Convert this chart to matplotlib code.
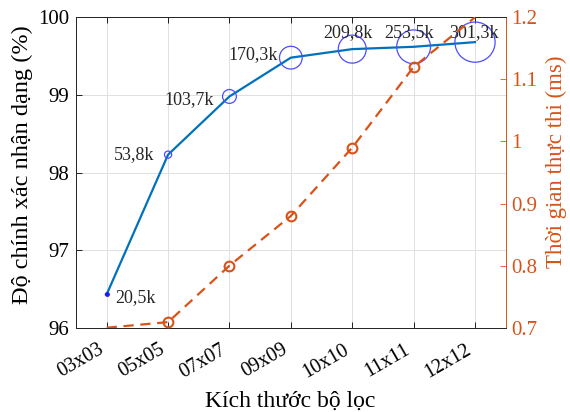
import matplotlib.pyplot as plt
from matplotlib.transforms import ScaledTranslation

plt.rcParams["font.family"] = ["Liberation Serif", "DejaVu Serif"]

filter_sizes = ["03x03", "05x05", "07x07", "09x09", "10x10", "11x11", "12x12"]
accuracy = [96.43, 98.23, 98.98, 99.48, 99.59, 99.62, 99.68]
exec_time = [0.700, 0.709, 0.800, 0.880, 0.990, 1.120, 1.200]
params_k = [20.5, 53.8, 103.7, 170.3, 209.8, 253.5, 301.3]
param_labels = ["20,5k", "53,8k", "103,7k", "170,3k", "209,8k", "253,5k", "301,3k"]

BLUE = (0.0, 0.447, 0.741)
ORANGE = (0.85, 0.325, 0.098)
DARK = (0.15, 0.15, 0.15)

x = list(range(len(filter_sizes)))

fig = plt.figure(figsize=(5.7, 4.12), dpi=100)
ax = fig.add_axes([0.1333, 0.2046, 0.7539, 0.7534])
ax2 = ax.twinx()

# left axis: accuracy with bubble markers sized by number of parameters
ax.plot(x, accuracy, color=BLUE, linewidth=1.6, zorder=3)
sizes = [(p / 7.5 * 0.72) ** 2 for p in params_k]
ax.scatter(x, accuracy, s=sizes, facecolors="none", edgecolors=(0.3, 0.3, 1.0), linewidths=0.9, zorder=4)
ax.scatter(x[:1], accuracy[:1], s=6, color=(0.1, 0.1, 1.0), zorder=5)

# label placement: (dx, dy) in points, horizontal alignment
label_pos = [
    ((6, -2), "left"),
    ((-10, 0), "right"),
    ((-11, -2), "right"),
    ((-9, 2), "right"),
    ((-3, 12), "center"),
    ((-3, 10), "center"),
    ((-1, 7), "center"),
]
for xi, yi, lab, (off, ha) in zip(x, accuracy, param_labels, label_pos):
    ax.annotate(lab, (xi, yi), xytext=off, textcoords="offset points",
                ha=ha, va="center", fontsize=13, color=DARK, zorder=6)

ax.set_xlim(-0.5, 6.5)
ax.set_ylim(96, 100)
ax.set_yticks([96, 97, 98, 99, 100])
ax.set_xticks(x)
ax.set_xticklabels(filter_sizes, rotation=30, ha="right", va="top", fontsize=14.5)
shift = ScaledTranslation(9 / 100, 0, fig.dpi_scale_trans)
for lbl in ax.get_xticklabels():
    lbl.set_transform(lbl.get_transform() + shift)
ax.grid(True, color="0.88", linewidth=0.7)
ax.set_axisbelow(True)
ax.tick_params(direction="in", top=True, length=4, colors="black", width=0.6)
ax.tick_params(axis="x", pad=9)
ax.tick_params(axis="y", pad=5, labelsize=15)
ax.set_xlabel("Kích thước bộ lọc", fontsize=17, va="baseline")
ax.xaxis.set_label_coords(0.499, -0.2565)
ax.set_ylabel("Độ chính xác nhận dạng (%)", fontsize=17.5, va="center")
ax.yaxis.set_label_coords(-0.1257, 0.526)

# right axis: execution time (markers on the limits are not drawn)
inside = [i for i, v in enumerate(exec_time) if 0.7 < v < 1.2]
ax2.plot(x, exec_time, color=ORANGE, linewidth=1.6, linestyle=(0, (4.6, 3.0)),
         marker="o", markersize=7, markerfacecolor="none", markeredgewidth=1.5,
         markevery=inside, zorder=3)
ax2.set_ylim(0.7, 1.2)
ax2.set_yticks([0.7, 0.8, 0.9, 1.0, 1.1, 1.2])
ax2.set_yticklabels(["0.7", "0.8", "0.9", "1", "1.1", "1.2"])
ax2.tick_params(direction="in", length=4, labelsize=15, colors=ORANGE, width=0.6, pad=4)
ax2.set_ylabel("Thời gian thực thi (ms)", fontsize=16.5, color=ORANGE, va="center")
ax2.yaxis.set_label_coords(1.119, 0.534)

for sp in ["left", "top", "bottom"]:
    ax.spines[sp].set_color(DARK)
    ax.spines[sp].set_linewidth(0.7)
    ax2.spines[sp].set_color(DARK)
    ax2.spines[sp].set_linewidth(0.7)
ax.spines["right"].set_visible(False)
ax2.spines["right"].set_color(ORANGE)
ax2.spines["right"].set_linewidth(0.7)

fig.savefig("out.png", dpi=100)
